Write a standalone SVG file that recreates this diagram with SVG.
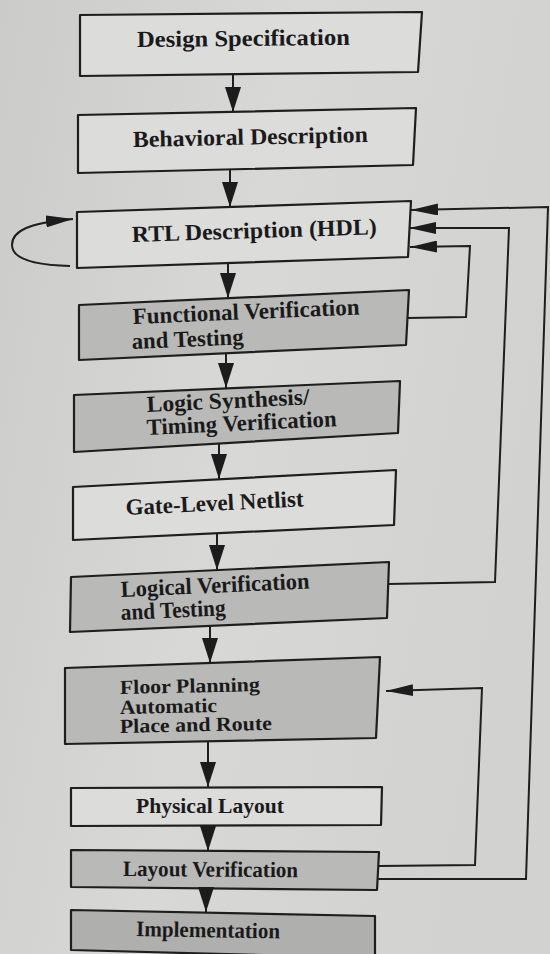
<svg xmlns="http://www.w3.org/2000/svg" width="550" height="954" viewBox="0 0 550 954">
  <defs>
    <linearGradient id="paper" x1="0" y1="0" x2="1" y2="0.3">
      <stop offset="0" stop-color="#cbcbca"/>
      <stop offset="0.5" stop-color="#d8d8d7"/>
      <stop offset="1" stop-color="#d2d2d1"/>
    </linearGradient>
    <marker id="headV" viewBox="0 0 25 16" refX="25" refY="8" markerWidth="25" markerHeight="16" markerUnits="userSpaceOnUse" orient="auto">
      <path d="M0,0 L25,8 L0,16 Z" fill="#1c1c1c"/>
    </marker>
    <marker id="headH" viewBox="0 0 27 12" refX="27" refY="6" markerWidth="27" markerHeight="12" markerUnits="userSpaceOnUse" orient="auto">
      <path d="M0,0 L27,6 L0,12 Z" fill="#1c1c1c"/>
    </marker>
  </defs>
  <style>
    .box { stroke: #1e1e1e; stroke-width: 2.2; stroke-linejoin: round; }
    .plain { fill: #dcdcdb; }
    .shade { fill: #b9b9b8; }
    .dark { fill: #afafae; }
    .lbl { font-family: "Liberation Serif", "Times New Roman", serif; font-weight: bold; font-size: 23px; fill: #1a1a1a; }
    .small { font-size: 20px; }
    .mid { font-size: 22px; }
    .wire { fill: none; stroke: #1e1e1e; stroke-width: 2; }
    .down { marker-end: url(#headV); }
    .back { marker-end: url(#headH); }
  </style>

  <rect x="0" y="0" width="550" height="954" fill="url(#paper)"/>

  <g id="design-spec">
    <polygon class="box plain" points="80,15 422,12 418,72 80,76"/>
    <text class="lbl" x="137" y="47" textLength="213" lengthAdjust="spacingAndGlyphs" transform="rotate(-0.6 137 47)">Design Specification</text>
  </g>

  <g id="behavioral">
    <polygon class="box plain" points="78,115 416,108 413,165 78,173"/>
    <text class="lbl" x="133" y="147" textLength="235" lengthAdjust="spacingAndGlyphs" transform="rotate(-1.2 133 147)">Behavioral Description</text>
  </g>

  <g id="rtl">
    <polygon class="box plain" points="77,212 411,201 408,257 77,268"/>
    <text class="lbl" x="132" y="242" textLength="245" lengthAdjust="spacingAndGlyphs" transform="rotate(-1.8 132 242)">RTL Description (HDL)</text>
  </g>

  <g id="functional-verification">
    <polygon class="box shade" points="79,305 409,290 406,345 79,360"/>
    <text class="lbl" x="133" y="324" textLength="227" lengthAdjust="spacingAndGlyphs" transform="rotate(-2.4 133 324)">Functional Verification</text>
    <text class="lbl" x="132" y="349" textLength="112" lengthAdjust="spacingAndGlyphs" transform="rotate(-2.4 132 349)">and Testing</text>
  </g>

  <g id="logic-synthesis">
    <polygon class="box shade" points="74,395 400,381 398,433 74,452"/>
    <text class="lbl" x="147" y="412" textLength="163" lengthAdjust="spacingAndGlyphs" transform="rotate(-2.7 147 412)">Logic Synthesis/</text>
    <text class="lbl" x="147" y="435" textLength="190" lengthAdjust="spacingAndGlyphs" transform="rotate(-2.7 147 435)">Timing Verification</text>
  </g>

  <g id="gate-netlist">
    <polygon class="box plain" points="73,487 396,470 394,525 73,540"/>
    <text class="lbl" x="126" y="515" textLength="178" lengthAdjust="spacingAndGlyphs" transform="rotate(-2.8 126 515)">Gate-Level Netlist</text>
  </g>

  <g id="logical-verification">
    <polygon class="box shade" points="71,577 389,562 387,618 70,632"/>
    <text class="lbl" x="121" y="597" textLength="189" lengthAdjust="spacingAndGlyphs" transform="rotate(-2.6 121 597)">Logical Verification</text>
    <text class="lbl" x="121" y="620" textLength="105" lengthAdjust="spacingAndGlyphs" transform="rotate(-2.6 121 620)">and Testing</text>
  </g>

  <g id="floor-planning">
    <polygon class="box shade" points="65,668 380,657 376,738 65,744"/>
    <text class="lbl small" x="120" y="694" textLength="140" lengthAdjust="spacingAndGlyphs" transform="rotate(-1.2 120 694)">Floor Planning</text>
    <text class="lbl small" x="120" y="714" textLength="97" lengthAdjust="spacingAndGlyphs" transform="rotate(-1.2 120 714)">Automatic</text>
    <text class="lbl small" x="120" y="733" textLength="152" lengthAdjust="spacingAndGlyphs" transform="rotate(-1.2 120 733)">Place and Route</text>
  </g>

  <g id="physical-layout">
    <polygon class="box plain" points="71,788 382,787 381,825 71,826"/>
    <text class="lbl mid" x="136" y="813" textLength="148" lengthAdjust="spacingAndGlyphs">Physical Layout</text>
  </g>

  <g id="layout-verification">
    <polygon class="box shade" points="71,850 379,852 377,890 71,887"/>
    <text class="lbl mid" x="123" y="876" textLength="175" lengthAdjust="spacingAndGlyphs" transform="rotate(0.4 123 876)">Layout Verification</text>
  </g>

  <g id="implementation">
    <polygon class="box dark" points="71,910 375,916 375,958 71,950"/>
    <text class="lbl mid" x="136" y="936" textLength="144" lengthAdjust="spacingAndGlyphs" transform="rotate(1 136 936)">Implementation</text>
  </g>

  <g id="connectors">
    <!-- main downward flow -->
    <line class="wire down" x1="233" y1="74" x2="233" y2="112"/>
    <line class="wire down" x1="230" y1="169" x2="230" y2="207"/>
    <line class="wire down" x1="228" y1="263" x2="228" y2="298"/>
    <line class="wire down" x1="226" y1="353" x2="226" y2="388"/>
    <line class="wire down" x1="219" y1="443" x2="219" y2="479"/>
    <line class="wire down" x1="217" y1="533" x2="217" y2="570"/>
    <line class="wire down" x1="210" y1="626" x2="210" y2="663"/>
    <line class="wire down" x1="208" y1="741" x2="208" y2="787"/>
    <line class="wire down" x1="208" y1="826" x2="208" y2="851"/>
    <line class="wire down" x1="206" y1="888" x2="206" y2="912"/>

    <!-- RTL self loop -->
    <path class="wire back" d="M70,266 C32,265 12,258 12,245 C12,231 28,223 73,219"/>

    <!-- feedback paths back to RTL -->
    <polyline class="wire back" points="407,318 466,317 470,246 410,247"/>
    <polyline class="wire back" points="388,584 495,582 509,228 409,228"/>
    <polyline class="wire back" points="378,879 526,879 548,207 411,210"/>

    <!-- layout verification back to floor planning -->
    <polyline class="wire back" points="378,866 475,865 482,688 386,691"/>
  </g>
</svg>
